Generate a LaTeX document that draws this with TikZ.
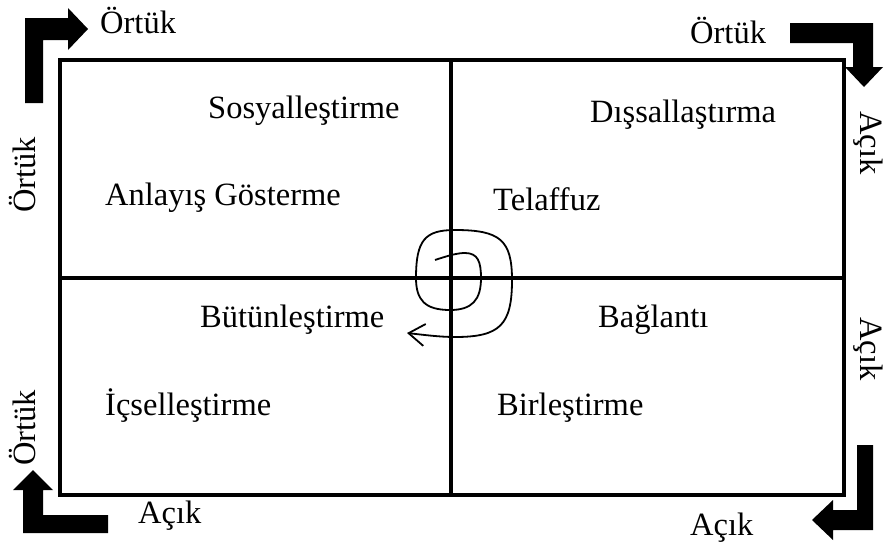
\documentclass[tikz,border=0pt]{standalone}
\usepackage{fontspec}
\setmainfont{Liberation Serif}
\usetikzlibrary{arrows.meta}
\begin{document}
\begin{tikzpicture}[x=1pt,y=-1pt,
  lbl/.style={inner sep=0pt,font=\fontsize{32.5}{37}\selectfont},
  frame/.style={line width=4.4pt},
  bigarrow/.style={fill=black,draw=none},
  spiral/.style={line width=1.8pt,-{Straight Barb[length=16pt,width=22pt,line width=1.8pt]}}]
\useasboundingbox (0,0) rectangle (885,541);
% frame
\draw[frame] (60,60) rectangle (844,495);
\draw[frame] (451,60) -- (451,495);
\draw[frame] (60,278) -- (844,278);
% corner arrows
\fill[bigarrow] (25,103) -- (43,103) -- (43,40) -- (68,40) -- (68,50) -- (88,29) -- (68,8) -- (68,18) -- (25,18) -- cycle;
\fill[bigarrow] (790,23) -- (873,23) -- (873,67) -- (883,67) -- (864,87) -- (845,67) -- (853,67) -- (853,43) -- (790,43) -- cycle;
\fill[bigarrow] (23,533) -- (108,533) -- (108,515) -- (43,515) -- (43,490) -- (53,490) -- (33,470) -- (13,490) -- (23,490) -- cycle;
\fill[bigarrow] (857,445) -- (873,445) -- (873,530) -- (833,530) -- (833,540) -- (812,520) -- (833,500) -- (833,510) -- (857,510) -- cycle;
% spiral
\coordinate (s0) at (435,260);
\coordinate (s9) at (407,333);
\draw[spiral] (s0) .. controls (450,255) and (458,253) .. (465,253)
  .. controls (478,253) and (481,262) .. (481,278)
  .. controls (481,300) and (472,310) .. (450,310)
  .. controls (425,310) and (416,300) .. (416,278)
  .. controls (416,240) and (425,230) .. (455,230)
  .. controls (500,230) and (512,240) .. (512,280)
  .. controls (512,325) and (500,337) .. (455,337)
  .. controls (440,337) and (425,335) .. (s9);
% labels
\node[lbl,anchor=base west] (sos) at (208,118) {Sosyalleştirme};
\node[lbl,anchor=base west] (anl) at (105,205) {Anlayış Gösterme};
\node[lbl,anchor=base west] (dis) at (590,122) {Dışsallaştırma};
\node[lbl,anchor=base west] (tel) at (493,210) {Telaffuz};
\node[lbl,anchor=base west] (but) at (200,327) {Bütünleştirme};
\node[lbl,anchor=base west] (ics) at (105,415) {İçselleştirme};
\node[lbl,anchor=base west] (bag) at (598,327) {Bağlantı};
\node[lbl,anchor=base west] (bir) at (497,415) {Birleştirme};
\node[lbl,anchor=base west] (o1) at (100,33) {Örtük};
\node[lbl,anchor=base west] (o2) at (690,43) {Örtük};
\node[lbl,anchor=base west] (a1) at (138,523) {Açık};
\node[lbl,anchor=base west] (a2) at (690,535) {Açık};
\node[lbl,anchor=base,rotate=90] (o3) at (35,175) {Örtük};
\node[lbl,anchor=base,rotate=90] (o4) at (35,428) {Örtük};
\node[lbl,anchor=base,rotate=-90] (a3) at (860,143) {Açık};
\node[lbl,anchor=base,rotate=-90] (a4) at (860,349) {Açık};
\end{tikzpicture}
\end{document}
